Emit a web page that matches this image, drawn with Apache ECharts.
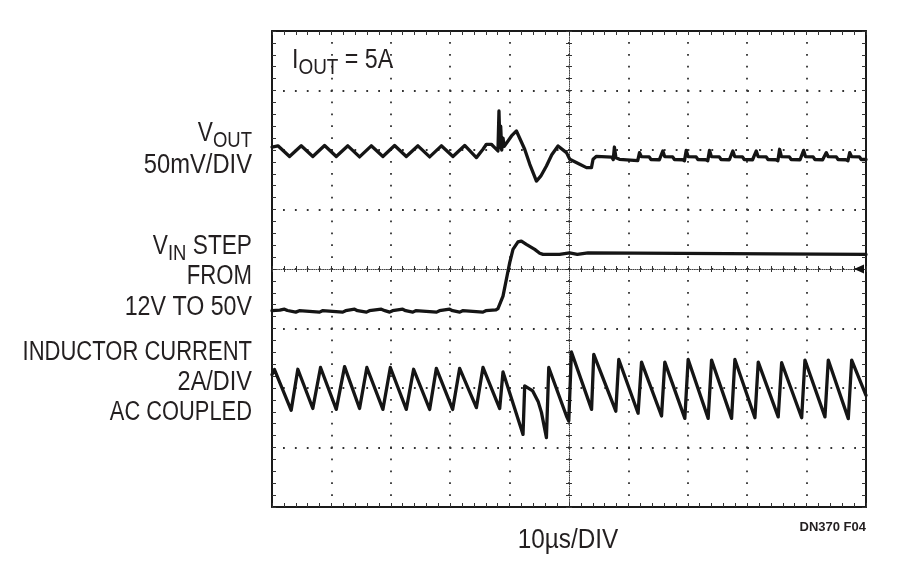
<!DOCTYPE html>
<html><head><meta charset="utf-8">
<script src="https://cdn.jsdelivr.net/npm/echarts@6/dist/echarts.min.js"></script>
<style>html,body{margin:0;padding:0;background:#fff}#c{width:900px;height:577px}</style>
</head><body><div id="c"></div>
<script>
// ---- scope settings ----
const TIME_MIN_US = -50, TIME_MAX_US = 50, TIME_PER_DIV_US = 10;
const DIV_MIN = -4, DIV_MAX = 4;
const voutScale = { perDiv: 50, offsetDiv: 2 };   // mV/DIV, AC
const vinScale  = { perDiv: 40, offsetDiv: -1 };  // V/DIV
const ilScale   = { perDiv: 2,  offsetDiv: -2 };  // A/DIV, AC coupled

// ---- traces: [time (µs), value] ----
const voutTrace = [
  [-50,2.5],[-49.0,3.5],[-47.05,-5.5],[-45.08,3.5],[-43.13,-5.5],[-41.15,3.8],[-39.18,-5.5],
  [-37.23,3.5],[-35.26,-5.8],[-33.29,3.5],[-31.33,-5.5],[-29.36,3.8],[-27.39,-5.5],[-25.43,3.5],
  [-23.46,-5.8],[-21.49,3.5],[-19.54,-5.5],[-17.56,3.8],[-15.59,-6.4],[-14.48,0.6],[-13.91,4.8],
  [-13.07,4.8],[-12.51,2.0],[-11.96,-0.8],[-11.79,32.8],[-11.62,2.0],[-11.50,20.0],[-11.33,0.0],
  [-11.11,10.0],[-10.90,3.0],[-9.68,11.8],[-8.85,16.0],[-7.46,0.6],[-6.60,-12.0],[-5.48,-26.1],
  [-4.76,-22.0],[-3.80,-13.4],[-2.90,-4.0],[-1.85,3.4],[-0.43,-2.2],[0.13,-7.8],[1.81,-12.0],
  [2.94,-14.8],[3.78,-14.8],[4.05,-7.8],[4.63,-5.3],[7.2,-6.0],[7.45,-8.0],[7.64,2.5],[7.9,-6.5],[8.5,-7.8],
  [11.57,-9.0],[11.87,-2.2],[12.17,-5.5],[13.5,-5.8],[13.8,-8.0],[15.2,-8.2],
  [15.5,-9.0],[15.8,-0.8],[16.1,-5.5],[17.45,-5.8],[17.75,-8.0],[19.1,-8.2],
  [19.44,-9.0],[19.74,-0.3],[20.04,-5.5],[21.4,-5.8],[21.7,-8.0],[23.0,-8.2],
  [23.36,-9.0],[23.66,-0.3],[23.96,-5.5],[25.3,-5.8],[25.6,-8.0],[27.0,-8.2],
  [27.29,-9.0],[27.59,-0.8],[27.89,-5.5],[29.2,-5.8],[29.5,-8.0],[30.9,-8.2],
  [31.23,-9.0],[31.53,-0.8],[31.83,-5.5],[33.2,-5.8],[33.5,-8.0],[34.8,-8.2],
  [35.16,-9.0],[35.46,0.6],[35.76,-5.5],[37.1,-5.8],[37.4,-8.0],[38.9,-8.2],
  [39.2,-9.0],[39.5,-0.3],[39.8,-5.5],[41.1,-5.8],[41.4,-8.0],[42.7,-8.2],
  [43.02,-9.0],[43.32,-2.2],[43.62,-5.5],[45.0,-5.8],[45.3,-8.0],[46.6,-8.2],
  [46.96,-9.0],[47.26,-2.2],[47.56,-5.5],[48.9,-5.8],[49.2,-8.0],[50,-8.0]
];
const vinTrace = [
  [-50,12.0],[-48.7,12.3],[-47.9,13.0],[-47.4,12.1],[-46.0,11.0],[-45.4,12.0],[-42.0,11.0],[-41.5,12.0],
  [-38.1,11.0],[-37.6,12.0],[-36.1,13.0],[-35.6,12.0],[-34.1,11.0],[-33.6,12.0],[-31.6,13.0],[-31.0,12.0],
  [-30.2,11.0],[-29.7,12.0],[-28.0,13.0],[-27.5,12.0],[-26.3,11.0],[-25.8,12.0],[-22.3,11.0],[-21.8,12.0],
  [-20.1,13.0],[-19.6,12.0],[-18.4,11.0],[-17.9,12.0],[-14.5,11.0],[-14.0,12.0],[-12.3,12.5],[-11.96,13.4],
  [-11.11,21.8],[-10.54,33.1],[-9.98,44.3],[-9.43,53.2],[-8.59,58.2],[-8.02,58.8],[-7.18,56.6],
  [-5.77,53.2],[-4.93,50.6],[-4.37,49.8],[-1.6,49.8],[-1.5,50.8],[0.1,50.8],[0.2,49.8],[1.4,49.8],
  [1.5,50.8],[3.2,50.8],[3.3,49.8],[50,49.8]
];
const ilTrace = [
  [-50,0.45],[-49.58,0.62],[-46.77,-0.75],[-45.65,0.63],[-43.13,-0.69],[-41.83,0.69],[-39.18,-0.72],
  [-37.78,0.72],[-35.26,-0.69],[-34.03,0.69],[-31.33,-0.72],[-30.08,0.69],[-27.39,-0.72],[-26.16,0.63],
  [-23.46,-0.72],[-22.33,0.66],[-19.59,-0.72],[-18.41,0.66],[-15.59,-0.66],[-14.48,0.69],[-11.67,-0.69],
  [-11.11,0.54],[-7.74,-1.56],[-7.46,0.07],[-6.11,-0.10],[-5.2,-0.45],[-4.64,-0.82],[-3.80,-1.67],
  [-3.41,0.69],[-0.43,-0.94],[-0.04,-1.11],[0.41,1.21],[3.80,-0.72],[4.17,1.13],[7.88,-0.78],[8.38,0.96],
  [11.63,-0.85],[12.21,0.87],[15.58,-0.94],[16.13,0.87],[19.50,-1.02],[20.06,0.96],[23.43,-1.02],
  [24.00,0.94],[27.37,-1.02],[27.93,0.96],[31.30,-1.00],[31.86,0.87],[35.22,-0.97],[35.80,0.85],
  [39.17,-1.00],[39.72,0.94],[43.09,-0.97],[43.65,0.94],[47.02,-1.03],[47.59,0.94],[50.00,-0.25]
];
const groundMarkerDiv = 0;

// ---- texts ----
const ioutLabel = '{m|I}{s|OUT}{m| = 5A}';
const voutLabels = ['{m|V}{s|OUT}', '{m|50mV/DIV}'];
const vinLabels = ['{m|V}{s|IN}{m| STEP}', '{m|FROM}', '{m|12V TO 50V}'];
const ilLabels = ['{m|INDUCTOR CURRENT}', '{m|2A/DIV}', '{m|AC COUPLED}'];
const timeLabel = '10µs/DIV';
const figLabel = 'DN370 F04';

// ---- build ----
const toDiv = (trace, sc) => trace.map(p => [p[0], sc.offsetDiv + p[1] / sc.perDiv]);
const FONT = "'Liberation Sans','Arial',sans-serif";
const INK = '#231f20';
const TRACE = '#151515';
const GRID = { left: 272, top: 31, width: 594, height: 476 };

function xAx(gridIndex, position, opt) {
  return Object.assign({
    type: 'value', gridIndex, position, min: TIME_MIN_US, max: TIME_MAX_US, interval: TIME_PER_DIV_US,
    axisLabel: { show: false }, splitLine: { show: false }
  }, opt);
}
function yAx(gridIndex, position, opt) {
  return Object.assign({
    type: 'value', gridIndex, position, min: DIV_MIN, max: DIV_MAX, interval: 1,
    axisLabel: { show: false }, splitLine: { show: false }
  }, opt);
}
const frameLine = { show: true, onZero: false, lineStyle: { color: '#1a1a1a', width: 2 } };
const frameTick = { show: true, inside: true, length: 4, lineStyle: { color: '#333', width: 1 } };
const frameMinor = { show: true, splitNumber: 5, length: 4, lineStyle: { color: '#333', width: 1 } };
const dotted = { show: true, lineStyle: { color: '#333', width: 1.8, type: [1.8, 10.1], dashOffset: 0.9 } };
const centerLine = { show: true, onZero: true, lineStyle: { color: '#444', width: 1, type: [1, 1.2] } };
const centerTick = { show: true, inside: true, length: 3, lineStyle: { color: '#333', width: 1 } };
const centerMinor = { show: true, splitNumber: 5, length: 3, lineStyle: { color: '#333', width: 1 } };

function lineSeries(data, extra) {
  return Object.assign({
    type: 'line', xAxisIndex: 0, yAxisIndex: 0, data, showSymbol: false, symbol: 'none',
    lineStyle: { color: TRACE, width: 3.3, join: 'round', cap: 'round' }, smooth: false, z: 10
  }, extra || {});
}

const mainRich = (size) => ({
  m: { fontSize: size, lineHeight: 36, fontFamily: FONT, color: INK },
  s: { fontSize: 22, lineHeight: 18, verticalAlign: 'bottom', fontFamily: FONT, color: INK }
});
function txt(text, x, y, align, sx, size) {
  return {
    type: 'text', x, y, z: 100, scaleX: sx,
    style: { text, rich: mainRich(size || 27), align, verticalAlign: 'middle', fill: INK, fontFamily: FONT, fontSize: size || 27 }
  };
}

const graphics = [
  txt(ioutLabel, 292, 61, 'left', 0.86),
  txt(voutLabels[0], 252, 134, 'right', 0.84),
  txt(voutLabels[1], 252, 166, 'right', 0.88),
  txt(vinLabels[0], 252, 247, 'right', 0.84),
  txt(vinLabels[1], 252, 277, 'right', 0.82),
  txt(vinLabels[2], 252, 308, 'right', 0.86),
  txt(ilLabels[0], 252, 353, 'right', 0.815),
  txt(ilLabels[1], 252, 383, 'right', 0.87),
  txt(ilLabels[2], 252, 413, 'right', 0.81),
  { type: 'text', x: 568, y: 541, z: 100, scaleX: 0.9, style: { text: timeLabel, align: 'center', verticalAlign: 'middle', fill: INK, fontFamily: FONT, fontSize: 27 } },
  { type: 'text', x: 866, y: 527, z: 100, style: { text: figLabel, align: 'right', verticalAlign: 'middle', fill: INK, fontFamily: FONT, fontSize: 13, fontWeight: 'bold' } }
];

const option = {
  animation: false,
  backgroundColor: '#ffffff',
  grid: [0, 1, 2].map(() => Object.assign({ show: false, containLabel: false, outerBoundsMode: 'none' }, GRID)),
  xAxis: [
    xAx(0, 'bottom', { axisLine: frameLine, axisTick: frameTick, minorTick: frameMinor, splitLine: dotted }),
    xAx(0, 'top', { axisLine: frameLine, axisTick: frameTick, minorTick: frameMinor }),
    xAx(1, 'bottom', { axisLine: centerLine, axisTick: centerTick, minorTick: centerMinor }),
    xAx(2, 'top', { axisLine: { show: false, onZero: true }, axisTick: centerTick, minorTick: centerMinor })
  ],
  yAxis: [
    yAx(0, 'left', { axisLine: frameLine, axisTick: frameTick, minorTick: frameMinor, splitLine: dotted }),
    yAx(0, 'right', { axisLine: frameLine, axisTick: frameTick, minorTick: frameMinor }),
    yAx(1, 'left', { axisLine: centerLine, axisTick: centerTick, minorTick: centerMinor }),
    yAx(2, 'right', { axisLine: { show: false, onZero: true }, axisTick: centerTick, minorTick: centerMinor })
  ],
  series: [
    lineSeries(toDiv(voutTrace, voutScale)),
    lineSeries(toDiv(vinTrace, vinScale), {
      markPoint: {
        symbol: 'triangle', symbolSize: [9, 10], symbolRotate: 90, symbolOffset: [-7, 0],
        itemStyle: { color: '#111' }, label: { show: false }, silent: true,
        data: [{ coord: [TIME_MAX_US, groundMarkerDiv] }]
      }
    }),
    lineSeries(toDiv(ilTrace, ilScale))
  ],
  graphic: graphics
};

const chart = echarts.init(document.getElementById('c'), null, { renderer: 'canvas' });
chart.setOption(option);
</script>
</body></html>
